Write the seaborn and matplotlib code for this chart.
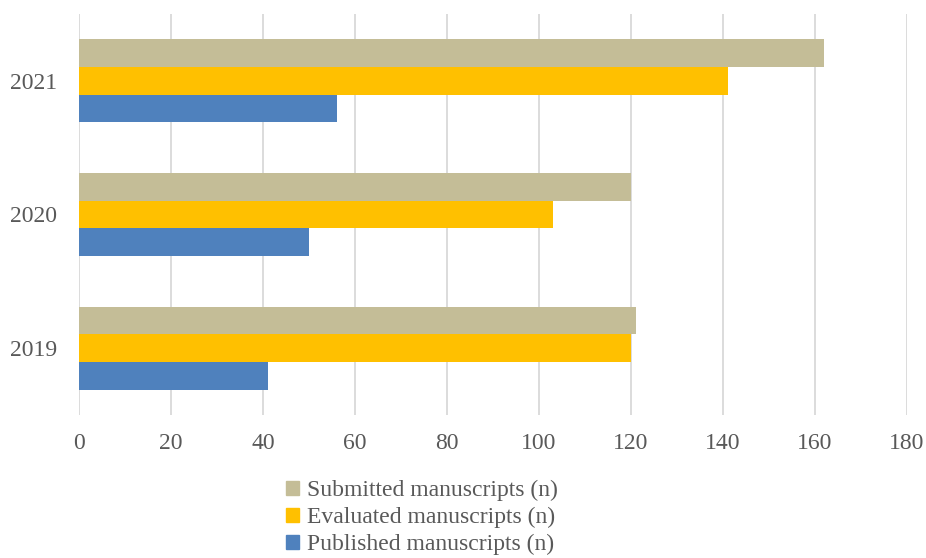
import pandas as pd
import numpy as np
import matplotlib.pyplot as plt
import seaborn as sns

years = ["2021", "2020", "2019"]
submitted = [162, 120, 121]
evaluated = [141, 103, 120]
published = [56, 50, 41]

series_names = ["Submitted manuscripts (n)", "Evaluated manuscripts (n)", "Published manuscripts (n)"]
colores = ["#C4BD97", "#FFC000", "#4F81BD"]

df = pd.DataFrame({
    "Year": years * 3,
    "Series": np.repeat(series_names, len(years)),
    "Value": submitted + evaluated + published,
})

sns.set_style("white")
plt.rcParams["font.family"] = ["Liberation Serif", "DejaVu Serif"]

fig = plt.figure(figsize=(9.26, 5.58), dpi=100)
ax = fig.add_axes([79 / 926, 1 - 415 / 558, (907 - 79) / 926, (415 - 14) / 558])

sns.barplot(data=df, y="Year", x="Value", hue="Series", order=years, hue_order=series_names,
            palette=colores, orient="h", width=0.62, saturation=1, legend=False,
            linewidth=0, ax=ax)

ax.set_xlim(0, 180)
ax.set_xticks(range(0, 181, 20))
ax.grid(axis="x", color="#D9D9D9", linewidth=1.3)
ax.set_axisbelow(True)
for s in ax.spines.values():
    s.set_visible(False)
ax.set_xlabel("")
ax.set_ylabel("")
ax.tick_params(axis="both", length=0, labelsize=17, labelcolor="#595959")
ax.tick_params(axis="x", pad=13)
ax.tick_params(axis="y", pad=16)

# leyenda abajo, en columna
handles = [plt.Rectangle((0, 0), 1, 1, color=c) for c in colores]
fig.legend(handles, series_names, loc="upper left", bbox_to_anchor=(286 / 926, 1 - 480 / 558),
           frameon=False, fontsize=17, labelcolor="#595959", handlelength=0.55, handleheight=0.55,
           handletextpad=0.35, labelspacing=0.25, borderpad=0, borderaxespad=0)

fig.savefig("out.png", dpi=100)
